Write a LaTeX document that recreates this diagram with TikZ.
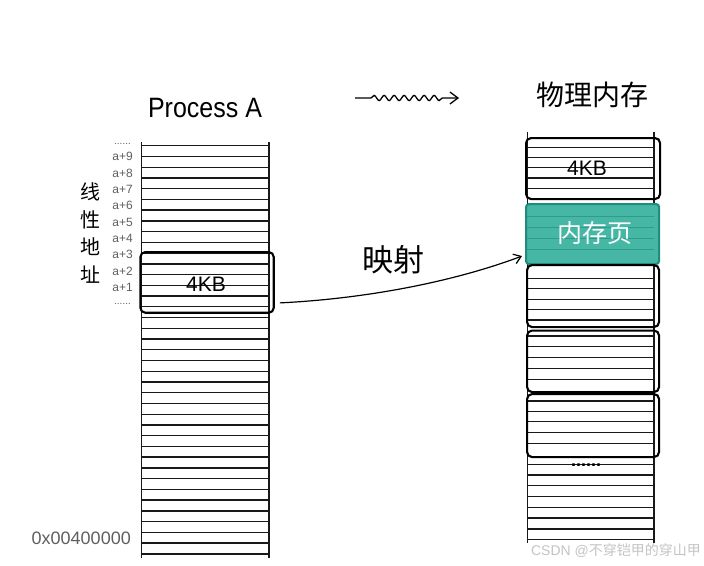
\documentclass[tikz,border=0pt]{standalone}
\usepackage{fontspec}
\setmainfont{Liberation Sans}
\newfontfamily\cjk{Noto Sans CJK SC}
\usetikzlibrary{decorations.pathmorphing,arrows.meta,calc}
\definecolor{tealfill}{RGB}{70,182,165}
\definecolor{tealedge}{RGB}{34,140,124}
\definecolor{tealline}{RGB}{48,155,139}
\definecolor{labgray}{RGB}{95,95,95}
\definecolor{wmgray}{RGB}{195,195,195}
\begin{document}
\begin{tikzpicture}[x=1pt,y=-1pt,
  rowline/.style={line width=1.35pt,black!90},
  pagebox/.style={draw,line width=2.1pt,rounded corners=5pt,inner sep=0pt,anchor=north west},
  addr/.style={anchor=east,text=labgray,font=\fontsize{12}{12}\selectfont,inner sep=0pt},
  dotsl/.style={text=labgray,font=\fontsize{10}{10}\selectfont,inner sep=0pt},
  kb/.style={font=\fontsize{21}{21}\selectfont,inner sep=0pt},
  title/.style={inner sep=0pt}
]
\useasboundingbox (0,0) rectangle (704,565);

% ---------- left column ----------
\draw[rowline] (141.7,142) -- (141.7,558);
\draw[rowline] (269,142) -- (269,558);
\foreach \i in {0,...,38}
  \draw[rowline] (141.7,{145.7+10.74*\i}) -- (269,{145.7+10.74*\i});
\node[pagebox,minimum width=133.4pt,minimum height=60.7pt] (lbox) at (139.3,251) {};
\node[kb] (lkb) at (206,284) {4KB};

% addresses
\foreach \k in {1,...,9}
  \node[addr] (a\k) at (133,{287.3-16.33*(\k-1)}) {a+\k};
\node[dotsl] (dtop) at (122.5,143.5) {......};
\node[dotsl] (dbot) at (122.5,304) {......};
\node[inner sep=0pt,align=center,font=\cjk\fontsize{20}{27.5}\selectfont] (lin) at (90,233) {线\\性\\地\\址};
\node[anchor=east,inner sep=0pt,text=labgray,font=\fontsize{18}{18}\selectfont] (base) at (131,538) {0x00400000};

% ---------- titles ----------
\node[title,yscale=1.12,font=\fontsize{25}{25}\selectfont] (pA) at (205,108) {Process A};
\node[title,font=\cjk\fontsize{28}{28}\selectfont] (phys) at (592,95) {物理内存};
\coordinate (w1) at (355,98);
\coordinate (w2) at (459,98);
\draw[line width=1.3pt,decorate,decoration={snake,amplitude=2.6pt,segment length=10pt,pre length=16pt,post length=12pt},-{Straight Barb[length=8pt,width=12pt,line width=1.3pt]}] (w1) -- (w2);

% ---------- right column ----------
\draw[rowline] (527.3,132) -- (527.3,543);
\draw[rowline] (654,132) -- (654,543);

% teal page
\node[pagebox,draw=tealedge,fill=tealfill,rounded corners=3pt,minimum width=133pt,minimum height=60pt] (tbox) at (525,203) {};
\foreach \y in {216.7,227.3,238.3,249.3}
  \draw[line width=1.2pt,tealline] (527.3,\y) -- (654,\y);
\node[title,text=white,font=\cjk\fontsize{25}{25}\selectfont] (tlab) at (595,233) {内存页};

% other pages
\foreach \y in {147.5,157.7,167.8,178,188.2,
                278.7,288.7,299.3,309.3,320,
                336,346.7,357.7,368.7,379.3,
                401,411.7,421.7,432.7,443.3,
                464.5,475,485.7,496.5,507.3,518,529,539.5}
  \draw[rowline] (527.3,\y) -- (654,\y);
\node[pagebox,minimum width=134pt,minimum height=61pt] (b1) at (525,137) {};
\node[kb] (rkb) at (587,168) {4KB};
\node[pagebox,minimum width=132pt,minimum height=62pt] (b3) at (526,264) {};
\node[pagebox,minimum width=132pt,minimum height=61.5pt] (b4) at (526,329.5) {};
\node[pagebox,minimum width=132pt,minimum height=63pt] (b5) at (526,393) {};
\node[inner sep=0pt,font=\bfseries\fontsize{18}{18}\selectfont] (rdots) at (586,465) {......};

% ---------- mapping arrow ----------
\draw[line width=1.2pt,-{Straight Barb[length=7pt,width=10pt,line width=1.2pt]}]
  ([xshift=5pt,yshift=-20.5pt]lbox.east) .. controls +(82,-4) and +(-72,27) .. ([xshift=-3pt,yshift=-22pt]tbox.west);
\node[title,font=\cjk\fontsize{31}{31}\selectfont] (map) at (393,260) {映射};

% watermark
\node[inner sep=0pt,text=wmgray,font=\fontsize{14}{14}\selectfont] (wm) at (616,551) {CSDN @{\cjk 不穿铠甲的穿山甲}};
\end{tikzpicture}
\end{document}
